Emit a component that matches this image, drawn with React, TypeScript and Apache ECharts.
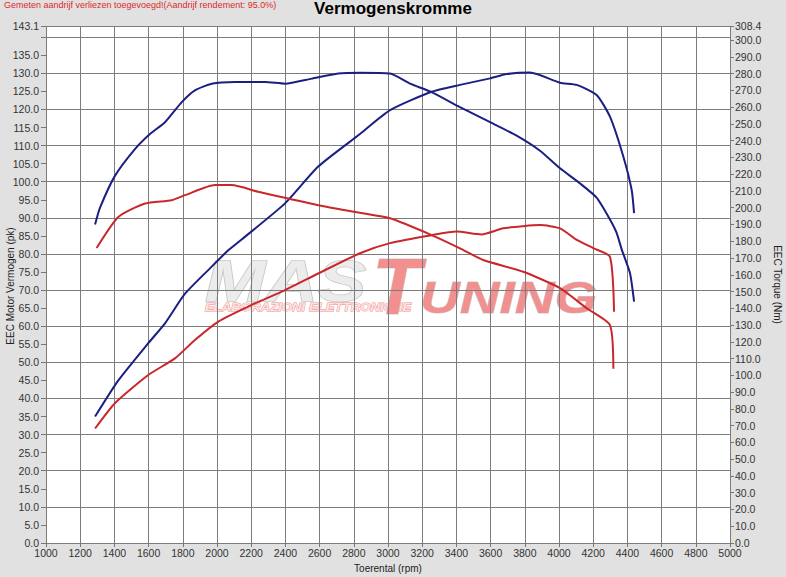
import React, { useEffect, useRef } from "react";
import * as echarts from "echarts";

// Blue (tuned) power curve, pk on left axis
const bluePowerRpm = [1287, 1423, 1598, 1696, 1813, 1969, 2066, 2144, 2398, 2592, 2836, 3012, 3255, 3421, 3597, 3694, 3830, 4006, 4104, 4220, 4298, 4376, 4425, 4439];
const bluePowerPk = [35, 45, 55.3, 60.8, 69, 76.5, 81, 84, 94, 104.2, 113.2, 119.8, 124.9, 126.8, 128.6, 129.8, 130.2, 127.4, 126.8, 124, 118, 107, 97.7, 91.3];

// Blue (tuned) torque curve, Nm on right axis
const blueTorqueRpm = [1287, 1316, 1403, 1520, 1608, 1696, 1794, 1871, 1969, 2105, 2281, 2398, 2554, 2709, 2836, 3012, 3129, 3255, 3421, 3597, 3752, 3889, 4006, 4123, 4220, 4298, 4337, 4367, 4415, 4439];
const blueTorqueNm = [190, 200, 219, 235, 244, 251, 263, 270, 274, 275, 275, 274, 277, 280, 280.5, 280, 274, 269, 260, 251, 243, 234, 223.5, 214.5, 206, 193, 185, 175, 161, 144];

// Red (stock) power curve, pk on left axis
const redPowerRpm = [1287, 1403, 1598, 1754, 1871, 2008, 2203, 2398, 2592, 2836, 3012, 3255, 3401, 3547, 3674, 3791, 3889, 4006, 4104, 4201, 4298, 4322];
const redPowerPk = [31.7, 38.7, 46.5, 51.1, 56.2, 61.3, 65.9, 70, 74.6, 80.2, 83, 85.2, 86.2, 85.4, 87.1, 87.7, 88, 87.1, 83.9, 81.6, 79.2, 64];

// Red (stock) torque curve, Nm on right axis
const redTorqueRpm = [1296, 1423, 1579, 1735, 1813, 1988, 2086, 2241, 2417, 2592, 2836, 3012, 3255, 3421, 3557, 3791, 4006, 4162, 4298, 4318];
const redTorqueNm = [176, 194.5, 202.5, 204.5, 207.5, 213.5, 213.5, 209.5, 205.5, 201.5, 197, 193.7, 183.7, 175.8, 168.8, 161.8, 152, 140, 130, 104];

const xMin = 1000;
const xMax = 5000;
const leftMax = 143.1;
const rightMax = 308.4;

const titleText = "Vermogenskromme";
const noteText = "Gemeten aandrijf verliezen toegevoegd!(Aandrijf rendement: 95.0%)";
const leftAxisName = "EEC Motor Vermogen (pk)";
const rightAxisName = "EEC Torque (Nm)";
const xAxisName = "Toerental (rpm)";

const zip = (xs: number[], ys: number[]) => xs.map((x, i) => [x, ys[i]]);

const FONT = "'Liberation Sans', Arial, sans-serif";
const BLUE = "#1b1f82";
const RED = "#c8282c";

export default function App() {
  const ref = useRef<HTMLDivElement>(null);
  useEffect(() => {
    if (!ref.current) return;
    const chart = echarts.init(ref.current, undefined, { renderer: "svg" });
    const labelStyle = { fontFamily: FONT, fontSize: 10.5, color: "#333" };
    const lineSeries = (name: string, data: number[][], color: string, yAxisIndex: number) => ({
      name,
      type: "line",
      data,
      yAxisIndex,
      showSymbol: false,
      smooth: 0.2,
      lineStyle: { color, width: 2 },
      itemStyle: { color },
      z: 5,
    });
    chart.setOption({
      animation: false,
      backgroundColor: "#e1e1e1",
      textStyle: { fontFamily: FONT },
      grid: {
        left: 46,
        right: 56,
        top: 26,
        bottom: 34,
        show: true,
        backgroundColor: "#ffffff",
        borderWidth: 0,
        containLabel: false,
        outerBoundsMode: "none",
      },
      xAxis: {
        type: "value",
        min: xMin,
        max: xMax,
        interval: 200,
        name: xAxisName,
        nameLocation: "middle",
        nameGap: 20,
        nameTextStyle: { fontFamily: FONT, fontSize: 10, color: "#222" },
        axisLine: { show: false },
        axisTick: { show: true, length: 4, lineStyle: { color: "#777" } },
        axisLabel: { ...labelStyle, margin: 4, formatter: (v: number) => String(v) },
        splitLine: { show: true, lineStyle: { color: "#7c7c7c", width: 1 } },
      },
      yAxis: [
        {
          type: "value",
          position: "left",
          min: 0,
          max: leftMax,
          interval: 5,
          axisLine: { show: false },
          axisTick: { show: true, length: 5, lineStyle: { color: "#777" } },
          axisLabel: {
            ...labelStyle,
            margin: 7,
            // the label just below the max label is hidden in the reference (overlap)
            formatter: (v: number) => (v < leftMax && leftMax - v < 5 ? "" : v.toFixed(1)),
          },
          splitLine: { show: false },
        },
        {
          type: "value",
          position: "right",
          min: 0,
          max: rightMax,
          interval: 10,
          name: rightAxisName,
          nameLocation: "middle",
          nameGap: 42,
          nameRotate: -90,
          nameTextStyle: { fontFamily: FONT, fontSize: 10, color: "#222" },
          axisLine: { show: false },
          axisTick: { show: true, length: 4, lineStyle: { color: "#777" } },
          axisLabel: { ...labelStyle, margin: 5, formatter: (v: number) => v.toFixed(1) },
          splitLine: { show: false },
        },
        {
          type: "value",
          position: "left",
          min: 0,
          max: leftMax,
          interval: 10,
          axisLine: { show: false },
          axisTick: { show: false },
          axisLabel: { show: false },
          splitLine: { show: true, lineStyle: { color: "#7c7c7c", width: 1 } },
        },
      ],
      graphic: [
        {
          type: "text",
          left: 4,
          top: 0,
          style: { text: noteText, fontFamily: FONT, fontSize: 9, fill: "#e02828" },
        },
        {
          type: "text",
          left: "center",
          top: 0,
          style: { text: titleText, fontFamily: FONT, fontSize: 17, fontWeight: "bold", fill: "#000" },
        },
        {
          type: "text",
          x: 10,
          y: 286,
          rotation: Math.PI / 2,
          style: {
            text: leftAxisName,
            fontFamily: FONT,
            fontSize: 10,
            fill: "#222",
            align: "center",
            verticalAlign: "middle",
          },
        },
        {
          type: "group",
          z: 1,
          silent: true,
          children: [
            {
              type: "text",
              x: 205,
              y: 252,
              scaleX: 1.25,
              style: {
                text: "MAS",
                fontFamily: FONT,
                fontSize: 58,
                fontWeight: "bold",
                fontStyle: "italic",
                fill: "#ececec",
                stroke: "#c8c8c8",
                lineWidth: 1.5,
              },
            },
            {
              type: "text",
              x: 205,
              y: 302,
              scaleX: 1.2,
              style: {
                text: "ELABORAZIONI ELETTRONICHE",
                fontFamily: FONT,
                fontSize: 11,
                fontWeight: "bold",
                fontStyle: "italic",
                fill: "#fbe3e3",
                stroke: "#f08c8c",
                lineWidth: 0.8,
              },
            },
            {
              type: "text",
              x: 372,
              y: 246,
              style: {
                text: "T",
                fontFamily: FONT,
                fontSize: 80,
                fontWeight: "bold",
                fontStyle: "italic",
                fill: "#f29090",
                stroke: "#cfcfcf",
                lineWidth: 1,
              },
            },
            {
              type: "text",
              x: 420,
              y: 276,
              scaleX: 1.25,
              style: {
                text: "UNING",
                fontFamily: FONT,
                fontSize: 44,
                fontWeight: "bold",
                fontStyle: "italic",
                fill: "#f29090",
                stroke: "#cfcfcf",
                lineWidth: 1,
              },
            },
          ],
        },
      ],
      series: [
        lineSeries("Vermogen tuned", zip(bluePowerRpm, bluePowerPk), BLUE, 0),
        lineSeries("Torque tuned", zip(blueTorqueRpm, blueTorqueNm), BLUE, 1),
        lineSeries("Vermogen stock", zip(redPowerRpm, redPowerPk), RED, 0),
        lineSeries("Torque stock", zip(redTorqueRpm, redTorqueNm), RED, 1),
      ],
    });
    return () => chart.dispose();
  }, []);
  return (
    <div
      ref={ref}
      style={{ position: "fixed", left: 0, top: 0, width: 786, height: 577, background: "#e1e1e1" }}
    />
  );
}
